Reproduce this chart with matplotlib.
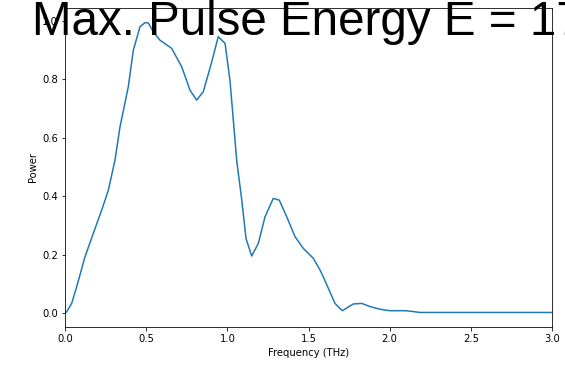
import numpy as np
import matplotlib
matplotlib.use("Agg")
import matplotlib.pyplot as plt

# spectrum (frequency in THz, normalised power)
freq = [0.0, 0.01, 0.041, 0.072, 0.123, 0.174, 0.226, 0.267, 0.308, 0.339,
        0.39, 0.421, 0.462, 0.493, 0.513, 0.544, 0.585, 0.657, 0.719, 0.77,
        0.811, 0.852, 0.904, 0.944, 0.986, 1.016, 1.058, 1.089, 1.115, 1.15,
        1.191, 1.232, 1.283, 1.32, 1.366, 1.417, 1.468, 1.53, 1.571, 1.591,
        1.663, 1.708, 1.776, 1.828, 1.88, 1.94, 2.0, 2.1, 2.19, 2.4, 2.6,
        2.8, 3.0]
power = [0.0, 0.004, 0.033, 0.09, 0.192, 0.272, 0.352, 0.42, 0.523, 0.637,
         0.774, 0.899, 0.979, 0.993, 0.992, 0.962, 0.933, 0.905, 0.842, 0.762,
         0.728, 0.757, 0.859, 0.945, 0.922, 0.797, 0.52, 0.386, 0.255, 0.195,
         0.238, 0.329, 0.392, 0.386, 0.329, 0.261, 0.221, 0.187, 0.147, 0.124,
         0.033, 0.008, 0.031, 0.033, 0.022, 0.013, 0.008, 0.008, 0.002, 0.002,
         0.002, 0.002, 0.002]

title = "Max. Pulse Energy E = 17 \u00b5J"

DPI = 72
fig = plt.figure(figsize=(565 / DPI, 372 / DPI), dpi=DPI)
ax = fig.add_axes([65 / 565, 1 - 326.5 / 372, 487 / 565, 318.5 / 372])

ax.plot(freq, power, color='#1f77b4', lw=1.5)
ax.set_xlim(0, 3.0)
ax.set_ylim(-0.046, 1.043)
ax.set_xticks(np.arange(0, 3.01, 0.5))
ax.set_yticks(np.arange(0, 1.01, 0.2))
ax.tick_params(labelsize=10)
ax.set_xlabel('Frequency (THz)', fontsize=10)
ax.set_ylabel('Power', fontsize=10)

# big title overlapping the top of the axes, cut off at the right edge
fig.text(32 / 565, 1 - 35 / 372, title, fontsize=47.5,
         family='Liberation Sans', ha='left', va='baseline', zorder=10)

fig.savefig('out.png', dpi=DPI)
